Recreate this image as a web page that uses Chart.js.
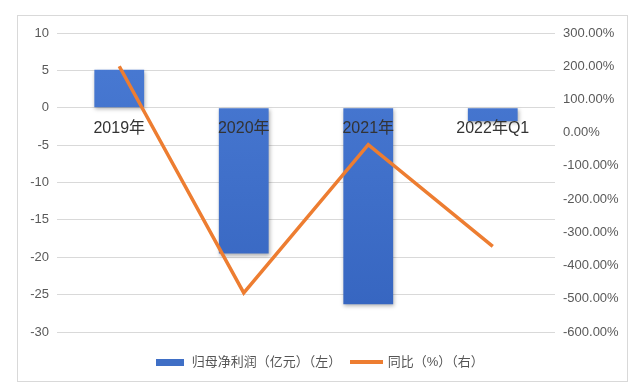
<!DOCTYPE html>
<html>
<head>
<meta charset="utf-8">
<script src="https://cdn.jsdelivr.net/npm/chart.js@4/dist/chart.umd.min.js"></script>
<style>
  html, body { margin: 0; padding: 0; background: #fff; }
  #wrap { position: relative; width: 639px; height: 386px; }
  #frame { position: absolute; left: 17px; top: 15px; width: 609px; height: 365px; border: 1px solid #d9d9d9; }
  #c { position: absolute; left: 0; top: 0; }
</style>
</head>
<body>
<div id="wrap">
  <div id="frame"></div>
  <canvas id="c" width="639" height="386"></canvas>
</div>
<script>
// data
var categories = ['2019年', '2020年', '2021年', '2022年Q1'];
var profit = [5.1, -19.5, -26.3, -1.8];      // 归母净利润（亿元）
var yoy = [200, -482, -36, -342];            // 同比（%）
var leftTicks = { min: -30, max: 10, step: 5 };
var rightTicks = { min: -600, max: 300, step: 100 };

var FONT = '"Liberation Sans", "Noto Sans CJK SC", sans-serif';

// little legend swatches
function swatch(w, h, color) {
  const cv = document.createElement('canvas');
  cv.width = w; cv.height = h;
  const g = cv.getContext('2d');
  g.fillStyle = color;
  g.fillRect(0, 0, w, h);
  return cv;
}
const barSwatch = swatch(28, 7, '#3f6fc6');
const lineSwatch = swatch(33, 4, '#ed7d31');

// category labels sit next to the zero line, drawn over the bars
const zeroLabels = {
  id: 'zeroLabels',
  afterDatasetsDraw(chart) {
    const ctx = chart.ctx;
    const x = chart.scales.x, y = chart.scales.yL;
    const y0 = y.getPixelForValue(0);
    ctx.save();
    ctx.font = '16px ' + FONT;
    ctx.fillStyle = '#333';
    ctx.textAlign = 'center';
    ctx.textBaseline = 'middle';
    categories.forEach((c, i) => {
      ctx.fillText(c, x.getPixelForValue(i), y0 + 21);
    });
    ctx.restore();
  }
};

// soft shadow under the bars
const barShadow = {
  id: 'barShadow',
  beforeDatasetDraw(chart, args) {
    if (args.index !== 1) return;
    const ctx = chart.ctx;
    ctx.save();
    ctx.shadowColor = 'rgba(0,0,0,0.3)';
    ctx.shadowBlur = 4;
    ctx.shadowOffsetX = 1;
    ctx.shadowOffsetY = 2;
  },
  afterDatasetDraw(chart, args) {
    if (args.index !== 1) return;
    chart.ctx.restore();
  }
};

new Chart(document.getElementById('c'), {
  data: {
    labels: categories,
    datasets: [{
      type: 'line',
      label: '同比（%）（右）',
      data: yoy,
      yAxisID: 'yR',
      borderColor: '#ed7d31',
      borderWidth: 3.5,
      pointRadius: 0,
      tension: 0,
      order: 0
    }, {
      type: 'bar',
      label: '归母净利润（亿元）（左）',
      data: profit,
      yAxisID: 'yL',
      backgroundColor: function(ctx) {
        const area = ctx.chart.chartArea;
        if (!area) return '#3f6fc6';
        const g = ctx.chart.ctx.createLinearGradient(0, area.top, 0, area.bottom);
        g.addColorStop(0, '#4a7bd4');
        g.addColorStop(1, '#3564bf');
        return g;
      },
      barPercentage: 0.4,
      categoryPercentage: 1,
      order: 1
    }]
  },
  options: {
    responsive: false,
    animation: false,
    layout: { padding: { top: 33, bottom: 7.5, left: 0, right: 0 } },
    plugins: {
      tooltip: { enabled: false },
      legend: {
        position: 'bottom',
        // empty title only to push the legend row down a bit
        title: { display: true, text: '', font: { size: 1 }, padding: { top: 12.3, bottom: 0 } },
        labels: {
          usePointStyle: true,
          pointStyleWidth: 30,
          padding: 10,
          color: '#555',
          font: { size: 13, family: FONT },
          generateLabels(chart) {
            return [{
              text: '归母净利润（亿元）（左）', pointStyle: barSwatch,
              fillStyle: '#3f6fc6', lineWidth: 0, datasetIndex: 1, fontColor: '#555'
            }, {
              text: '同比（%）（右）', pointStyle: lineSwatch,
              fillStyle: '#ed7d31', lineWidth: 0, datasetIndex: 0, fontColor: '#555'
            }];
          }
        }
      }
    },
    scales: {
      x: { display: false, offset: true },
      yL: {
        position: 'left',
        min: leftTicks.min, max: leftTicks.max,
        afterFit(s) { s.width = 57; },
        border: { display: false },
        grid: { color: '#d9d9d9', drawTicks: false },
        ticks: { stepSize: leftTicks.step, padding: 8, color: '#595959', font: { size: 13, family: FONT } }
      },
      yR: {
        position: 'right',
        min: rightTicks.min, max: rightTicks.max,
        afterFit(s) { s.width = 84; },
        border: { display: false },
        grid: { display: false, drawTicks: false },
        ticks: {
          stepSize: rightTicks.step, padding: 8, color: '#595959',
          font: { size: 13, family: FONT },
          callback: v => v.toFixed(2) + '%'
        }
      }
    }
  },
  plugins: [zeroLabels, barShadow]
});
</script>
</body>
</html>
